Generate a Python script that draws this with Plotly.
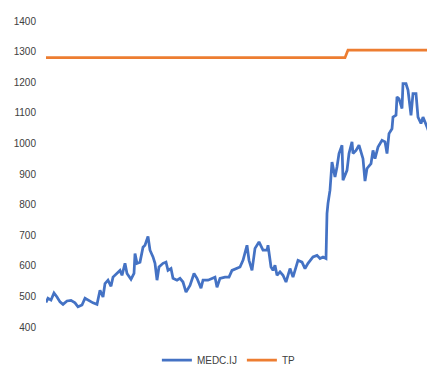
import plotly.graph_objects as go

# Trading-day index and MEDC.IJ closing prices
medc_days = [0, 2, 5, 8, 11, 14, 17, 21, 25, 29, 32, 36, 39, 42, 47, 51, 54, 57, 59, 62,
             65, 67, 71, 74, 76, 79, 81, 85, 88, 89, 91, 94, 97, 99, 102, 104, 107, 109, 111, 113,
             117, 120, 122, 125, 127, 131, 134, 137, 140, 144, 148, 151, 155, 157, 162, 169, 171, 174, 179, 183,
             186, 191, 194, 197, 201, 203, 206, 209, 213, 217, 221, 222, 225, 227, 229, 231, 234, 237, 240, 244,
             247, 252, 256, 259, 262, 267, 271, 274, 277, 280, 281, 282, 284, 286, 289, 291, 293, 296, 297, 301,
             303, 306, 307, 310, 313, 317, 319, 321, 325, 327, 329, 332, 336, 339, 341, 343, 346, 347, 350, 351,
             353, 356, 357, 360, 362, 365, 367, 370, 372, 375, 377, 381, 383]
medc_vals = [480, 494, 488, 511, 498, 482, 474, 485, 487, 479, 466, 472, 494, 488, 479, 474, 520, 498, 542, 553,
             533, 563, 575, 585, 569, 608, 575, 556, 575, 640, 608, 612, 661, 667, 696, 651, 629, 608, 553, 596,
             608, 612, 585, 591, 559, 553, 559, 547, 514, 536, 575, 559, 527, 553, 553, 563, 530, 559, 563, 563,
             585, 591, 596, 618, 667, 618, 585, 657, 678, 651, 651, 667, 596, 585, 602, 569, 580, 569, 547, 591,
             563, 618, 612, 591, 608, 629, 634, 624, 629, 624, 771, 804, 847, 939, 890, 923, 967, 994, 880, 912,
             967, 1005, 967, 977, 994, 950, 877, 918, 934, 977, 950, 988, 1010, 1005, 967, 1032, 1048, 1086, 1092, 1152,
             1146, 1114, 1195, 1195, 1174, 1092, 1163, 1163, 1086, 1065, 1086, 1054, 1035]

# Target price
tp_days = [0, 299, 302, 383]
tp_vals = [1280, 1280, 1305, 1305]

y_ticks = [400, 500, 600, 700, 800, 900, 1000, 1100, 1200, 1300, 1400]

fig = go.Figure()
fig.add_trace(go.Scatter(x=medc_days, y=medc_vals, mode="lines", name="MEDC.IJ",
                         line=dict(color="#4472C4", width=2.75)))
fig.add_trace(go.Scatter(x=tp_days, y=tp_vals, mode="lines", name="TP",
                         line=dict(color="#ED7D31", width=2.75)))

fig.update_layout(
    width=427, height=367,
    margin=dict(l=46, r=0, t=21, b=40, autoexpand=False),
    paper_bgcolor="white", plot_bgcolor="white",
    font=dict(family="Liberation Sans Narrow, Liberation Sans, Arial", size=10, color="#404040"),
    showlegend=True,
    legend=dict(orientation="h", x=0.48, xanchor="center", yref="container", y=0.019, yanchor="middle",
                font=dict(size=10, color="#404040"), itemwidth=30, traceorder="normal"),
    xaxis=dict(range=[0, 381], showgrid=False, zeroline=False, showline=False,
               showticklabels=False, ticks="", automargin=False),
    yaxis=dict(range=[400, 1400], tickvals=y_ticks, showgrid=False, zeroline=False,
               showline=False, ticks="", ticklabelstandoff=9, automargin=False),
)

fig.write_html("out.html")
